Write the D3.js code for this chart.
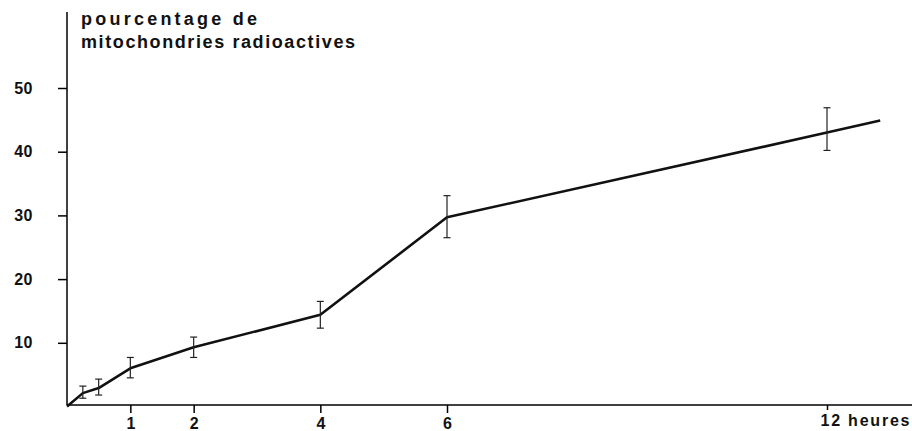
<!DOCTYPE html>
<html>
<head>
<meta charset="utf-8">
<script src="https://cdn.jsdelivr.net/npm/d3@7"></script>
<style>
  body { margin: 0; background: #fff; }
  svg { display: block; }
  text { font-family: "Liberation Sans", Arial, sans-serif; font-weight: bold; fill: #111; }
</style>
</head>
<body>
<svg id="chart" width="912" height="431"></svg>
<script>
// temps (heures) et pourcentage
const hours = [0, 0.25, 0.5, 1, 2, 4, 6, 12, 12.84];
const pct = [0, 2.1, 2.9, 6.0, 9.3, 14.4, 29.7, 43.0, 44.9];
const errLow = [null, 1.3, 1.8, 4.5, 7.7, 12.3, 26.5, 40.2, null];
const errHigh = [null, 3.2, 4.3, 7.7, 10.9, 16.5, 33.1, 46.9, null];
const xTicks = [1, 2, 4, 6, 12];
const yTicks = [10, 20, 30, 40, 50];
const titleLines = ['pourcentage de', 'mitochondries radioactives'];

const width = 912, height = 431;
const margin = { top: 12, right: 0, bottom: 26, left: 67 };

const svg = d3.select('#chart');

const x = d3.scaleLinear()
  .domain([0, 12])
  .range([margin.left, 827]);

const y = d3.scaleLinear()
  .domain([0, 50])
  .range([406.5, 88]);

const styleText = sel => sel
  .attr('font-size', 16)
  .attr('font-family', '"Liberation Sans", Arial, sans-serif')
  .attr('font-weight', 'bold')
  .attr('fill', '#111');

// axe vertical
svg.append('g')
  .attr('transform', `translate(${margin.left},0)`)
  .call(d3.axisLeft(y).tickValues(yTicks).tickSize(9).tickPadding(25))
  .call(g => g.select('.domain')
    .attr('d', `M0,${margin.top}V${height - margin.bottom}`)
    .attr('stroke-width', 1.5))
  .call(g => g.selectAll('.tick line').attr('stroke-width', 1.5))
  .call(g => g.selectAll('.tick text').call(styleText).attr('letter-spacing', 0.5));

// axe horizontal
svg.append('g')
  .attr('transform', `translate(0,${height - margin.bottom})`)
  .call(d3.axisBottom(x).tickValues(xTicks).tickSize(8).tickPadding(5)
    .tickFormat(d => d === 12 ? '12 heures' : d))
  .call(g => g.select('.domain')
    .attr('d', `M${margin.left},0H${width}`)
    .attr('stroke-width', 1.5))
  .call(g => g.selectAll('.tick line').attr('stroke-width', 1.5))
  .call(g => g.selectAll('.tick text').call(styleText))
  .call(g => {
    const t12 = g.selectAll('.tick').filter(d => d === 12);
    t12.select('line').attr('y2', 5);
    t12.select('text')
      .attr('text-anchor', 'start')
      .attr('dx', -7)
      .attr('y', 10)
      .attr('textLength', 89)
      .attr('lengthAdjust', 'spacing');
  });

// titre
svg.append('g')
  .selectAll('text')
  .data(titleLines)
  .join('text')
  .attr('x', 81)
  .attr('y', (d, i) => 25 + i * 22.5)
  .attr('font-size', 18)
  .attr('textLength', (d, i) => i === 0 ? 176 : 274)
  .attr('lengthAdjust', 'spacing')
  .text(d => d);

const data = hours.map((h, i) => ({ h, v: pct[i], lo: errLow[i], hi: errHigh[i] }));

// courbe
svg.append('path')
  .datum(data)
  .attr('fill', 'none')
  .attr('stroke', '#111')
  .attr('stroke-width', 2.6)
  .attr('stroke-linejoin', 'round')
  .attr('d', d3.line().x(d => x(d.h)).y(d => y(d.v)));

// barres d'erreur
const errs = svg.append('g')
  .attr('stroke', '#222')
  .attr('stroke-width', 1.2)
  .selectAll('g')
  .data(data.filter(d => d.lo != null))
  .join('g');

errs.append('line')
  .attr('x1', d => x(d.h)).attr('x2', d => x(d.h))
  .attr('y1', d => y(d.lo)).attr('y2', d => y(d.hi));
errs.append('line')
  .attr('x1', d => x(d.h) - 3.5).attr('x2', d => x(d.h) + 3.5)
  .attr('y1', d => y(d.lo)).attr('y2', d => y(d.lo));
errs.append('line')
  .attr('x1', d => x(d.h) - 3.5).attr('x2', d => x(d.h) + 3.5)
  .attr('y1', d => y(d.hi)).attr('y2', d => y(d.hi));
</script>
</body>
</html>
